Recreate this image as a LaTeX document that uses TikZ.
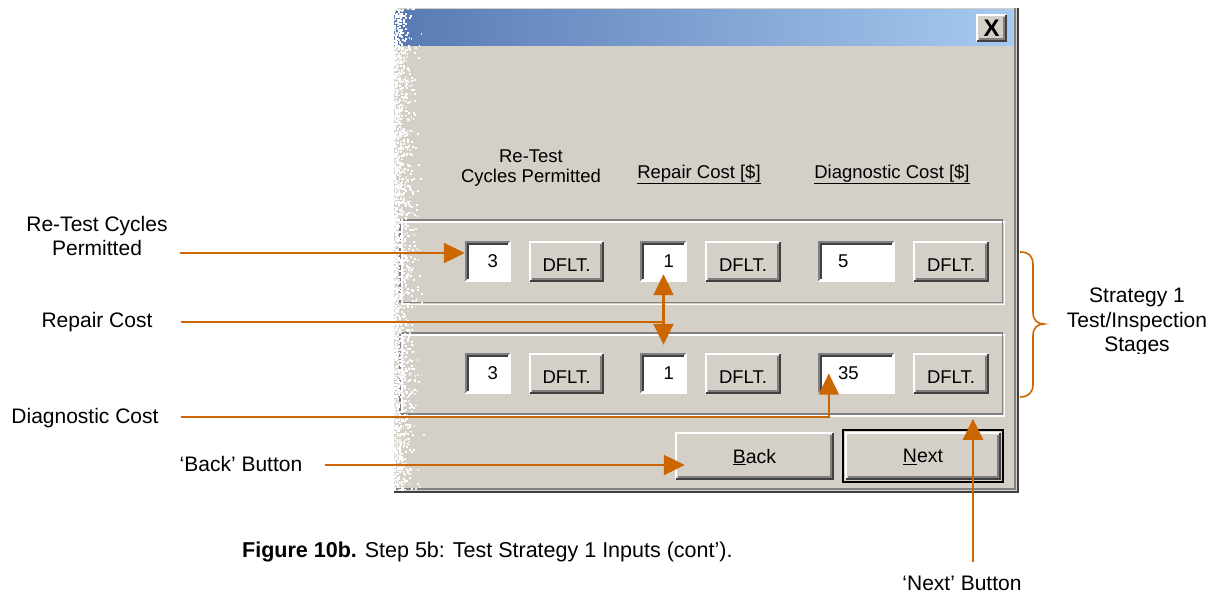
\documentclass[tikz,border=0pt]{standalone}
\usepackage{fontspec}
\setmainfont{Liberation Sans}
\usetikzlibrary{arrows.meta}

\definecolor{dlgbg}{RGB}{212,208,200}
\definecolor{bevdark}{RGB}{64,64,64}
\definecolor{bevgray}{RGB}{128,128,128}
\definecolor{speck}{RGB}{236,234,230}
\definecolor{orng}{RGB}{204,102,0}
\definecolor{titleL}{RGB}{88,122,180}
\definecolor{titleR}{RGB}{166,202,240}

\newcommand\dlgfont{\fontsize{18.5}{20}\selectfont}
\newcommand\btnfont{\fontsize{19.5}{23}\selectfont}
\newcommand\lblfont{\fontsize{21}{24}\selectfont}

% 3D borders of the Windows controls
\newcommand\sunkenbevel[1]{%
  \draw[bevgray,line width=2pt] ([shift={(1,-1)}]#1.south west) -- ([shift={(1,1)}]#1.north west) -- ([shift={(-1,1)}]#1.north east);
  \draw[white,line width=2pt] ([shift={(-1,1)}]#1.north east) -- ([shift={(-1,-1)}]#1.south east) -- ([shift={(1,-1)}]#1.south west);
  \draw[bevdark,line width=2pt] ([shift={(3,-3)}]#1.south west) -- ([shift={(3,3)}]#1.north west) -- ([shift={(-3,3)}]#1.north east);
}
\newcommand\raisedbevel[1]{%
  \draw[white,line width=2pt] ([shift={(1,-1)}]#1.south west) -- ([shift={(1,1)}]#1.north west) -- ([shift={(-1,1)}]#1.north east);
  \draw[bevdark,line width=2pt] ([shift={(-1,1)}]#1.north east) -- ([shift={(-1,-1)}]#1.south east) -- ([shift={(1,-1)}]#1.south west);
  \draw[bevgray,line width=2pt] ([shift={(-3,3)}]#1.north east) -- ([shift={(-3,-3)}]#1.south east) -- ([shift={(3,-3)}]#1.south west);
}

\tikzset{
  numfield/.style={fill=white, inner ysep=0pt, inner xsep=13pt, minimum height=41pt,
    text width=20pt, align=right, font=\dlgfont},
  costfield/.style={fill=white, inner ysep=0pt, inner xsep=20pt, minimum height=41pt,
    text width=37pt, align=left, font=\dlgfont},
  dfltbtn/.style={fill=dlgbg, inner sep=0pt, minimum width=75pt, minimum height=41pt,
    text height=20pt, text depth=0pt, font=\dlgfont},
  navbtn/.style={fill=dlgbg, inner sep=0pt, minimum width=159pt, minimum height=48pt,
    text depth=0pt, font=\btnfont},
  header/.style={anchor=base, inner sep=0pt, font=\dlgfont},
  lbl/.style={inner sep=0pt, font=\lblfont, align=center},
  callout/.style={draw=orng, line width=2.2pt, -{Triangle[length=21pt,width=20pt]}},
  callout2/.style={draw=orng, line width=2.2pt, {Triangle[length=21pt,width=20pt]}-{Triangle[length=21pt,width=20pt]}},
  leader/.style={draw=orng, line width=2.2pt},
  etched/.style={line width=1.5pt},
}

\begin{document}
\begin{tikzpicture}[x=1pt,y=-1pt]
\useasboundingbox[fill=white] (0,0) rectangle (1225,594);

% ---- dialog window ----
\fill[dlgbg] (393,8) rectangle (1018,491);
\shade[left color=titleL, right color=titleR] (393,10) rectangle (1013,46);
\draw[bevgray,line width=2pt] (1015,8) -- (1015,489) -- (393,489);
\draw[bevdark,line width=2pt] (1017.5,8) -- (1017.5,491.5) -- (393,491.5);

% close button
\node[fill=dlgbg, inner sep=0pt, minimum width=31pt, minimum height=28pt,
      font=\fontsize{24}{24}\selectfont\bfseries] (close) at (991.5,28) {X};
\raisedbevel{close}

% column headings
\node[inner sep=0pt, font=\dlgfont, align=center] (hRe) at (531,168.3) {Re-Test\\Cycles Permitted};
\node[header] (hRep) at (699,178) {\underline{Repair Cost [\$]}};
\node[header] (hDg) at (892,178) {\underline{Diagnostic Cost [\$]}};

% group boxes (etched frames)
\draw[etched, white] (402,222) rectangle (1004.5,304.5);
\draw[etched, bevgray] (400,220) rectangle (1002.5,302.5);
\draw[etched, white] (402,335) rectangle (1004.5,416);
\draw[etched, bevgray] (400,333) rectangle (1002.5,414);

% stage 1
\node[numfield] (f11) at (488,261.5) {3};
\node[dfltbtn] (d11) at (566.5,261.5) {DFLT.};
\node[numfield, text width=21pt] (f12) at (663.5,261.5) {1};
\node[dfltbtn] (d12) at (743,261.5) {DFLT.};
\node[costfield] (f13) at (856.5,261.5) {5};
\node[dfltbtn, minimum width=76pt] (d13) at (951,261.5) {DFLT.};
% stage 2
\node[numfield] (f21) at (488,373.5) {3};
\node[dfltbtn] (d21) at (566.5,373.5) {DFLT.};
\node[numfield, text width=21pt] (f22) at (663.5,373.5) {1};
\node[dfltbtn] (d22) at (743,373.5) {DFLT.};
\node[costfield] (f23) at (856.5,373.5) {35};
\node[dfltbtn, minimum width=76pt] (d23) at (951,373.5) {DFLT.};

\foreach \n in {f11,f12,f13,f21,f22,f23} {\sunkenbevel{\n}}
\foreach \n in {d11,d12,d13,d21,d22,d23} {\raisedbevel{\n}}

% navigation buttons
\node[navbtn] (back) at (754.5,456) {\underline{B}ack};
\raisedbevel{back}
\node[navbtn, minimum width=156pt, minimum height=48pt] (nxt) at (923,456) {\underline{N}ext};
\raisedbevel{nxt}
\draw[black, line width=2pt] ([shift={(-2,2)}]nxt.south west) rectangle ([shift={(2,-2)}]nxt.north east);

% torn left edge of the screenshot: fine white speckles
\pgfmathsetseed{4231}
\foreach \yy in {8,10,...,488} {
  \pgfmathsetmacro\dep{16+16*rnd}
  \foreach \xx in {392,394,...,426} {
    \pgfmathsetmacro\pp{rnd}
    \pgfmathsetmacro\thr{max(0,(393+\dep-\xx)/\dep)^1.3}
    \pgfmathsetmacro\thrw{0.8*\thr}
    \pgfmathsetmacro\jx{\xx+1.2*rnd}
    \pgfmathsetmacro\jy{\yy+1.2*rnd}
    \ifdim\pp pt<\thr pt
      \ifdim\pp pt<\thrw pt
        \fill[white] (\jx,\jy) rectangle ++(1.9,1.9);
      \else
        \fill[speck] (\jx,\jy) rectangle ++(1.9,1.9);
      \fi
    \fi
  }
}
\fill[white] (385,6) rectangle (393.5,494);

% ---- callouts ----
\node[lbl] (lRe) at (97,236.4) {Re-Test Cycles\\Permitted};
\coordinate (sRe) at (180,253);
\draw[callout] (sRe) -- (sRe -| f11.west);

\node[lbl, anchor=base] (lRep) at (97,327) {Repair Cost};
\coordinate (sRep) at (181,322);
\draw[leader] (sRep) -- (sRep -| f12.south);
\draw[callout2] ([yshift=8pt]f12.south) -- ([yshift=8pt]f22.north);

\node[lbl, anchor=base] (lDg) at (85,423) {Diagnostic Cost};
\coordinate (sDg) at (181,417);
\draw[callout] (sDg) -| ([xshift=11pt]f23.west);

\node[lbl, anchor=base] (lBk) at (241,471) {‘Back’ Button};
\coordinate (sBk) at (325,465);
\draw[callout, shorten >=-10pt] (sBk) -- (sBk -| back.west);

\node[lbl, anchor=base] (lNx) at (962,590) {‘Next’ Button};
\coordinate (sNx) at (973,562);
\draw[callout, shorten >=-13pt] (sNx) -- (sNx |- nxt.north);

% brace for the two stages
\draw[orng, line width=1.6pt] (1020,252) .. controls (1029,252) and (1033,256) .. (1033,265)
  -- (1033,312) .. controls (1033,320) and (1037,324) .. (1044,324)
  .. controls (1037,324) and (1033,328) .. (1033,336)
  -- (1033,384) .. controls (1033,392) and (1029,397) .. (1020,397);
\begin{scope}
  \clip (1050,270) rectangle (1225,353);
  \node[lbl, font=\fontsize{21}{24.5}\selectfont] (lStr) at (1137,322) {Strategy 1\\Test/Inspection\\Stages};
\end{scope}

% caption
\node[anchor=base west, inner sep=0pt, font=\fontsize{21.5}{24}\selectfont] (cap) at (242,557)
  {\textbf{Figure 10b.} Step 5b: Test Strategy 1 Inputs (cont’).};
\end{tikzpicture}
\end{document}
